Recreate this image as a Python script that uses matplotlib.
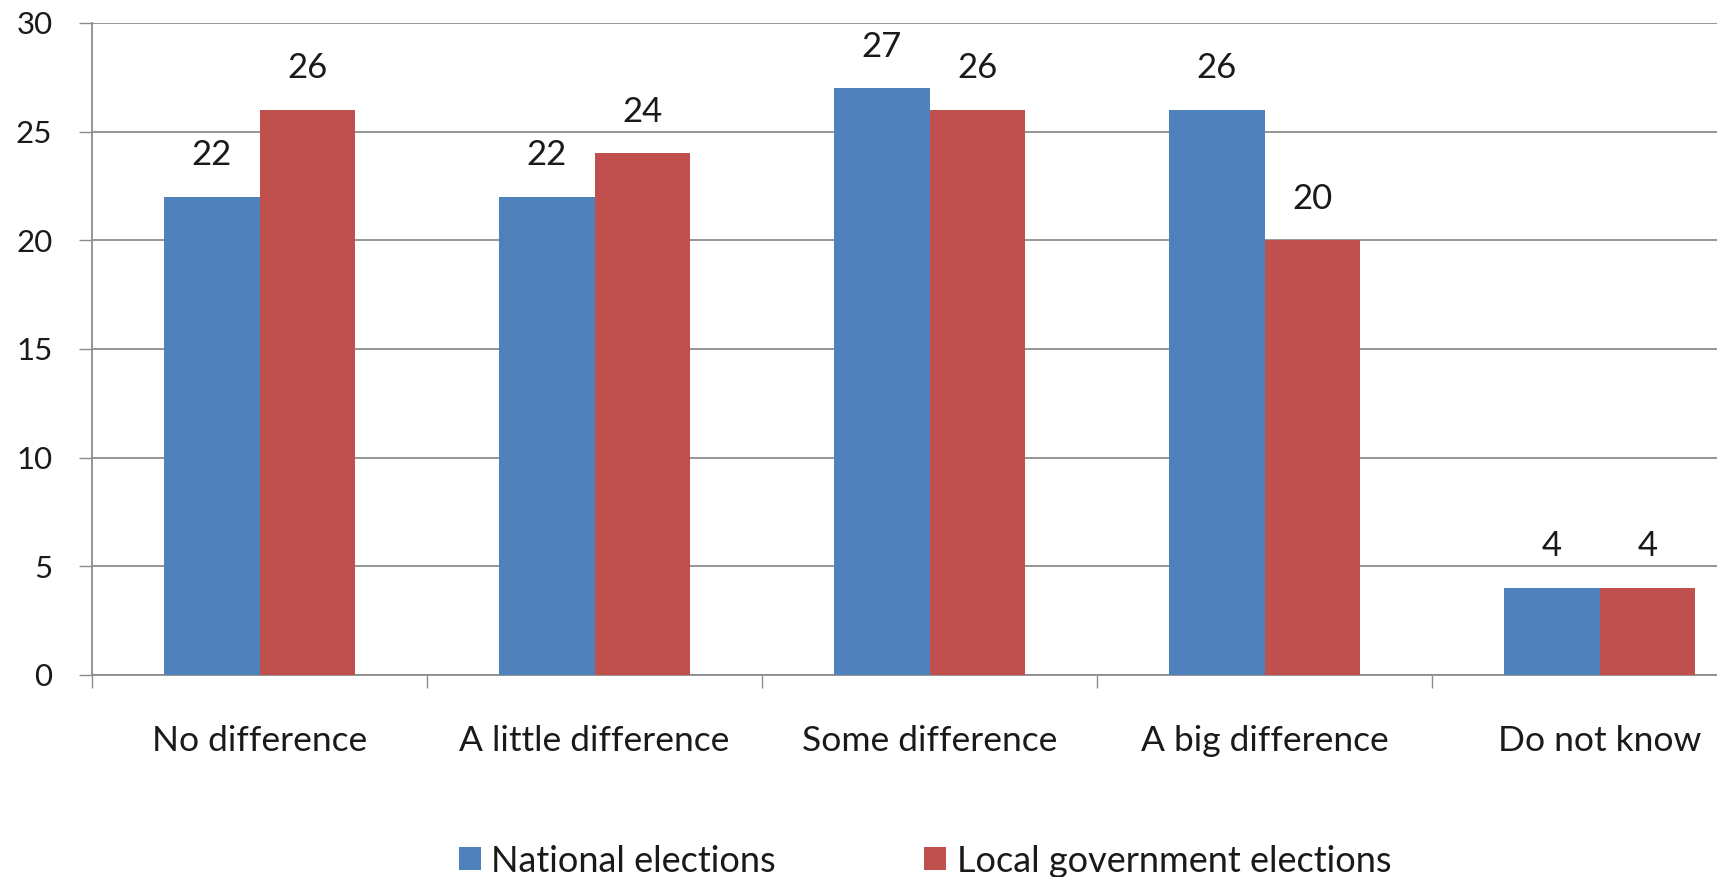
import matplotlib
matplotlib.use('Agg')
import matplotlib.pyplot as plt
import numpy as np

categories = ['No difference', 'A little difference', 'Some difference',
              'A big difference', 'Do not know']
national = [22, 22, 27, 26, 4]
local = [26, 24, 26, 20, 4]
series_names = ['National elections', 'Local government elections']

plt.rcParams['font.family'] = ['Lato', 'DejaVu Sans']

fig = plt.figure(figsize=(17.17, 8.77), dpi=100)
ax = fig.add_axes([92 / 1717, 1 - 675 / 877, 1 - 92 / 1717, (675 - 23) / 877])

x = np.arange(len(categories))
width = 0.285
b1 = ax.bar(x - width / 2, national, width, color='#4F81BD', label=series_names[0], zorder=3)
b2 = ax.bar(x + width / 2, local, width, color='#C0504D', label=series_names[1], zorder=3)

for bars, vals in ((b1, national), (b2, local)):
    for rect, v in zip(bars, vals):
        ax.annotate(str(v), (rect.get_x() + rect.get_width() / 2, v),
                    xytext=(0, 30), textcoords='offset points',
                    ha='center', va='center', fontsize=25, color='#1a1a1a')

ax.set_yticks(range(0, 31, 5))
ax.yaxis.grid(True, color='#8c8c8c', linewidth=1.3, zorder=0)
ax.tick_params(axis='y', length=9.5, width=1, color='#8c8c8c', pad=19,
               labelsize=22.5, labelcolor='#1a1a1a')

# category boundary ticks and centered labels
ax.set_xticks(np.arange(-0.5, 5, 1.0))
ax.set_xticklabels([])
ax.set_xticks(x, minor=True)
ax.set_xticklabels(categories, minor=True)
ax.tick_params(axis='x', which='major', length=9, width=1, color='#8c8c8c')
ax.tick_params(axis='x', which='minor', length=0, pad=36, labelsize=25.5,
               labelcolor='#1a1a1a')

ax.set_ylim(0, 30)
ax.set_xlim(-0.5, 4.35)

for s in ('top', 'right'):
    ax.spines[s].set_visible(False)
for s in ('left', 'bottom'):
    ax.spines[s].set_color('#8c8c8c')
    ax.spines[s].set_linewidth(1.3)

fig.legend(handles=[b1, b2], loc='center', bbox_to_anchor=(925 / 1717, 1 - 861 / 877),
           ncol=2, frameon=False, fontsize=26, handlelength=0.6, handleheight=0.6,
           handletextpad=0.3, columnspacing=4.1, labelcolor='#1a1a1a')

fig.savefig('out.png', dpi=100)
